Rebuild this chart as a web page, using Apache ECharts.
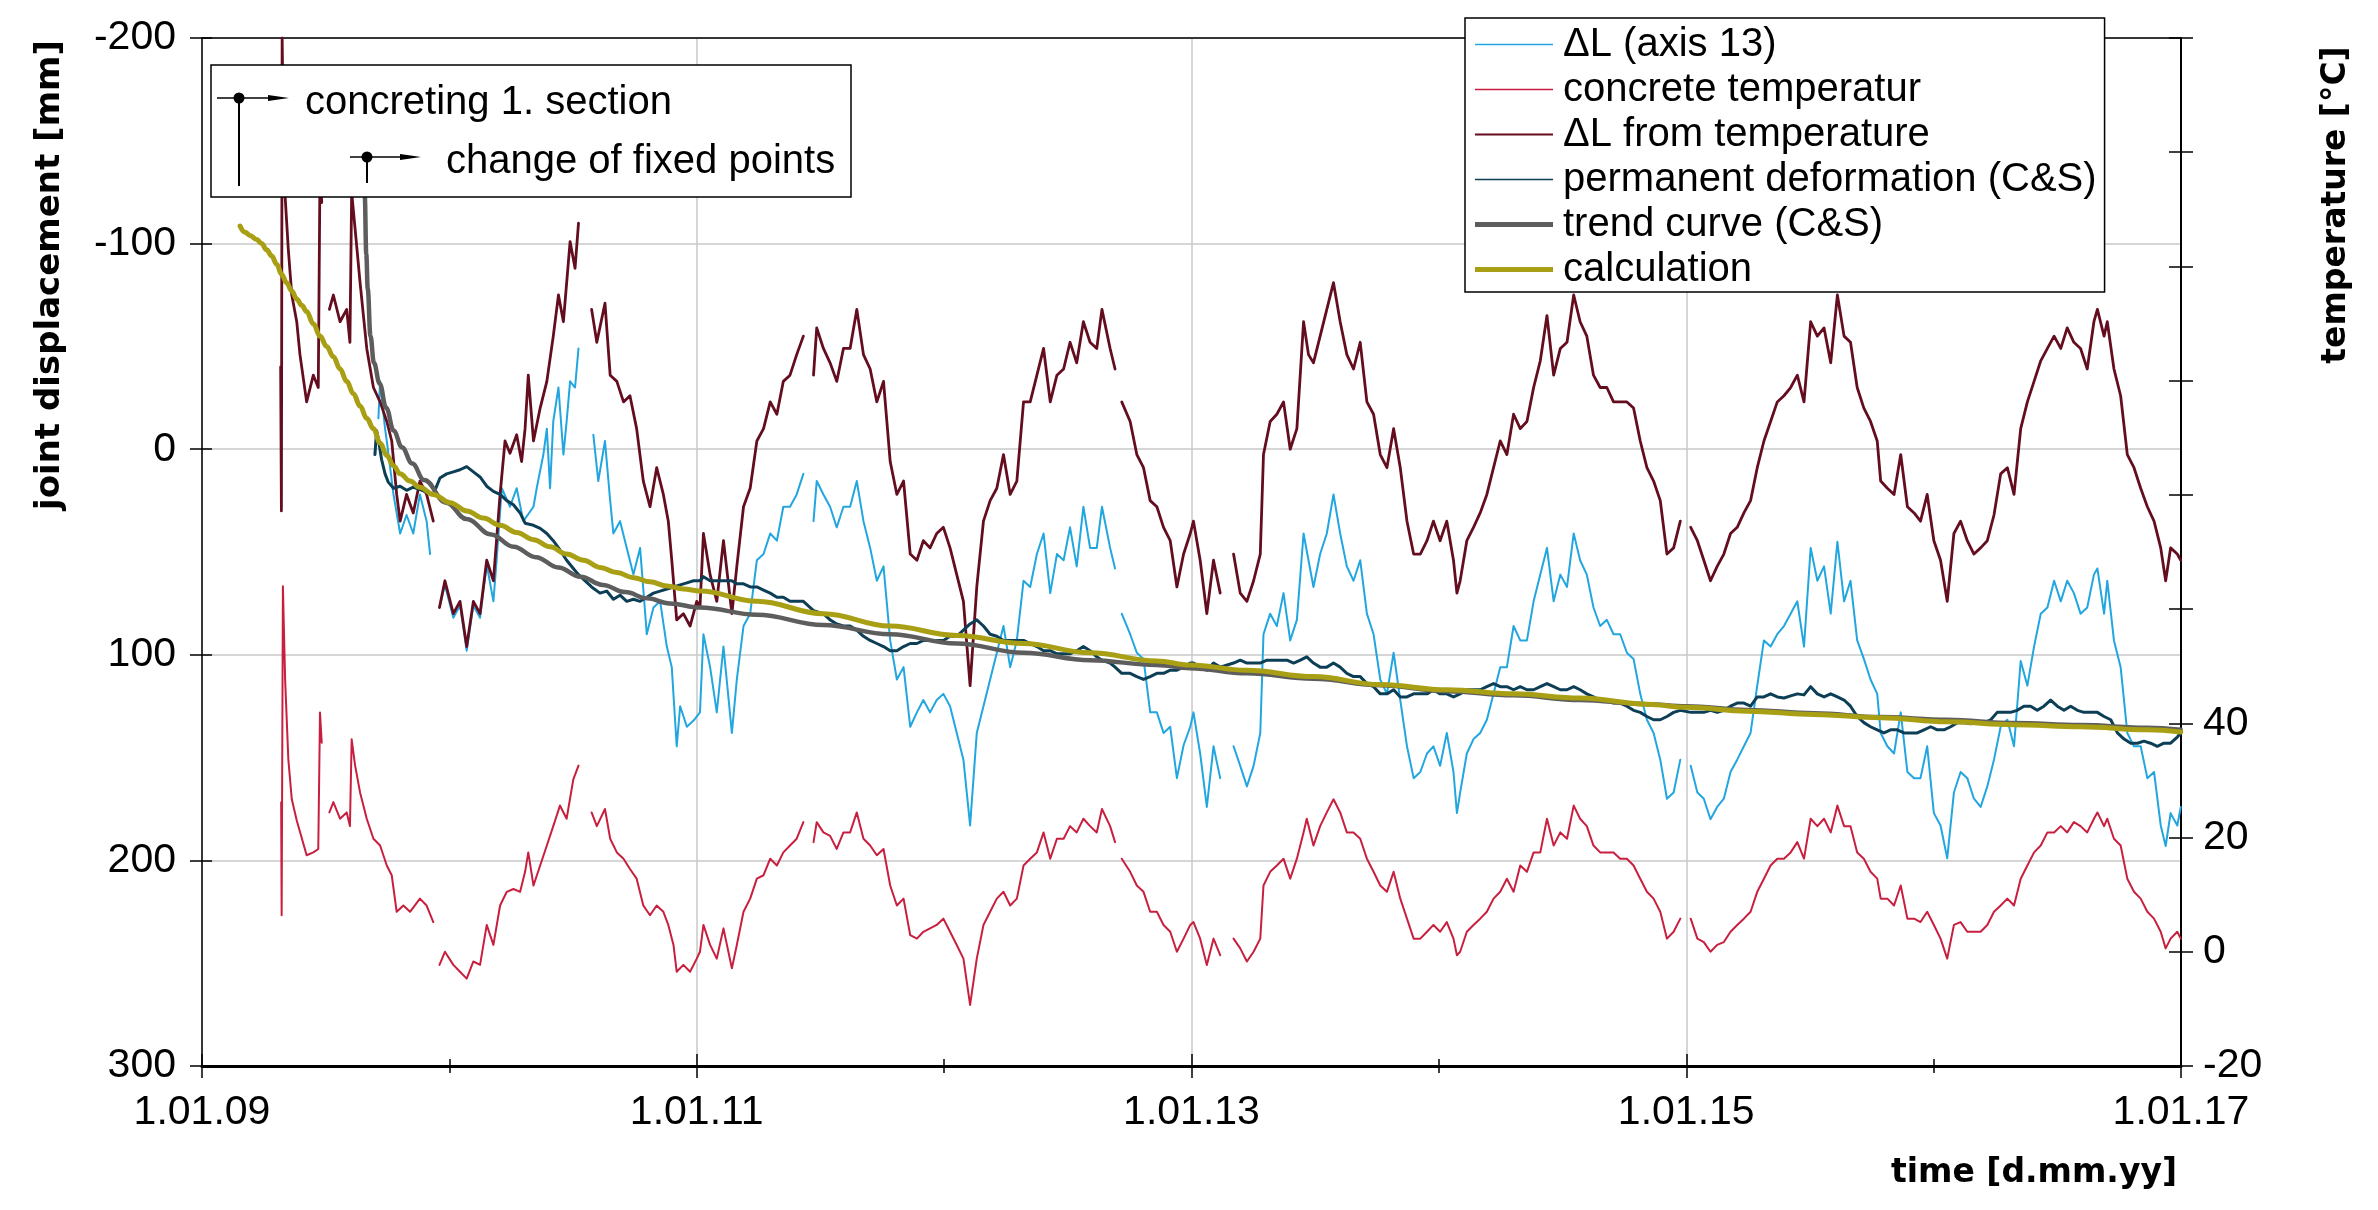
<!DOCTYPE html>
<html><head><meta charset="utf-8">
<script src="https://cdn.jsdelivr.net/npm/echarts@6.0.0/dist/echarts.min.js"></script>
<style>html,body{margin:0;padding:0;background:#fff}#chart{width:2378px;height:1210px}</style>
</head><body><div id="chart"></div>
<script>
// ---- tick labels ----
const xTickYears = [2009, 2011, 2013, 2015, 2017];
const xTickLabels = ['1.01.09', '1.01.11', '1.01.13', '1.01.15', '1.01.17'];
const tempLabelValues = [-20, 0, 20, 40];

// ---- series names ----
const seriesNames = ['ΔL (axis 13)', 'concrete temperatur', 'ΔL from temperature', 'permanent deformation (C&S)', 'trend curve (C&S)', 'calculation'];
const annotationLabels = ['concreting 1. section', 'change of fixed points'];

// ---- ΔL (axis 13) [mm] ----
const deltaL13 = [
[2009.713,-15],[2009.720,-33],[2009.740,-10],[2009.747,-4],[2009.774,22],[2009.801,41],[2009.827,32],[2009.854,41],[2009.881,22],[2009.908,35],[2009.922,51],[2009.941,null],
[2009.960,77],[2009.982,66],[2010.016,82],[2010.043,76],[2010.070,98],[2010.097,76],[2010.124,82],[2010.151,56],[2010.178,74],[2010.191,54],[2010.212,19],[2010.245,28],[2010.272,19],[2010.299,35],[2010.340,28],[2010.353,19],[2010.380,2.6],[2010.394,-10],[2010.407,19],[2010.420,-13.5],[2010.441,-30],[2010.461,2.6],[2010.474,-13.5],[2010.488,-33],[2010.508,-30],[2010.522,-49],[2010.550,null],
[2010.582,-7],[2010.602,15.5],[2010.629,-4],[2010.650,25],[2010.663,41],[2010.690,35],[2010.717,48],[2010.744,61],[2010.771,48],[2010.798,90],[2010.825,77],[2010.852,74],[2010.879,96],[2010.899,106],[2010.919,144.5],[2010.933,125],[2010.960,135],[2010.987,132],[2011.013,128],
[2011.027,90],[2011.054,106],[2011.081,128],[2011.108,96],[2011.142,138],[2011.162,112],[2011.189,86],[2011.216,80],[2011.243,54],[2011.270,51],[2011.297,41],[2011.324,44.5],[2011.350,28],[2011.377,28],[2011.404,22],[2011.431,12],[2011.452,null],
[2011.472,35],[2011.485,15.5],[2011.512,22],[2011.539,28],[2011.566,38],[2011.593,28],[2011.620,28],[2011.647,15.5],[2011.674,35],[2011.701,48],[2011.728,64],[2011.755,57],[2011.782,93],[2011.809,112],[2011.836,106],[2011.863,135],[2011.890,128],[2011.916,122],[2011.943,128],[2011.970,122],[2011.997,119],[2012.024,125],[2012.051,138],[2012.078,151],[2012.105,183],[2012.132,138],[2012.159,125],[2012.186,112],[2012.213,99],[2012.240,86],[2012.267,106],[2012.294,93],[2012.321,64],[2012.348,67],[2012.375,51],[2012.402,41],[2012.429,70],[2012.456,51],[2012.483,54],[2012.509,38],[2012.536,57],[2012.563,28],[2012.590,48],[2012.617,48],[2012.638,28],[2012.671,48],[2012.691,58],[2012.705,null],
[2012.718,80],[2012.752,90],[2012.779,99],[2012.806,102],[2012.833,128],[2012.860,128],[2012.887,138],[2012.914,135],[2012.941,160],[2012.968,144],[2012.995,135],
[2013.008,128],[2013.035,148],[2013.062,174],[2013.089,144.5],[2013.116,160],[2013.143,null],
[2013.170,144.5],[2013.197,154],[2013.224,164],[2013.251,154],[2013.278,138],[2013.291,90],[2013.318,80],[2013.345,86],[2013.372,70],[2013.399,93],[2013.426,83],[2013.453,41],[2013.473,54],[2013.493,67],[2013.520,51],[2013.547,41],[2013.574,22],[2013.601,41],[2013.628,57],[2013.655,64],[2013.682,54],[2013.709,80],[2013.736,90],[2013.763,112],[2013.790,119],[2013.817,99],[2013.844,122],[2013.871,144.5],[2013.898,160],[2013.925,157],[2013.952,148],[2013.978,144.5],[2014.005,154],[2014.032,138],[2014.059,157],[2014.073,177],[2014.086,167],[2014.113,148],[2014.140,141],[2014.167,138],[2014.194,131.6],[2014.221,119],[2014.248,106],[2014.275,106],[2014.302,86],[2014.329,93],[2014.356,93],[2014.383,74],[2014.410,61],[2014.437,48],[2014.464,74],[2014.491,61],[2014.518,67],[2014.545,41],[2014.571,54],[2014.598,61],[2014.625,77],[2014.652,86],[2014.679,83],[2014.706,90],[2014.733,90],[2014.760,99],[2014.787,102],[2014.814,119],[2014.841,131.6],[2014.868,138],[2014.895,151],[2014.922,170],[2014.949,167],[2014.976,151],[2015.000,null],
[2015.018,154],[2015.045,167],[2015.071,170],[2015.098,180],[2015.125,174],[2015.152,170],[2015.179,157],[2015.206,151],[2015.233,144.5],[2015.260,138],[2015.287,115],[2015.314,93],[2015.341,96],[2015.368,90],[2015.395,86],[2015.422,80],[2015.449,74],[2015.476,96],[2015.503,48],[2015.530,64],[2015.557,57],[2015.584,80],[2015.611,45],[2015.638,74],[2015.664,64],[2015.691,93],[2015.718,102],[2015.745,112],[2015.772,119],[2015.786,138],[2015.813,144.5],[2015.840,148],[2015.867,128],[2015.894,157],[2015.921,160],[2015.947,160],[2015.974,144.5],[2016.001,177],[2016.028,183],[2016.055,199],[2016.082,167],[2016.109,157],[2016.136,160],[2016.163,170],[2016.190,174],[2016.217,164],[2016.244,151],[2016.271,135],[2016.298,131.6],[2016.325,144.5],[2016.352,103],[2016.379,115],[2016.406,96],[2016.433,80],[2016.460,77],[2016.487,64],[2016.514,74],[2016.540,64],[2016.567,70],[2016.594,80],[2016.621,77],[2016.648,61],[2016.662,58],[2016.689,80],[2016.702,64],[2016.729,93],[2016.756,106],[2016.783,138],[2016.810,144.5],[2016.837,144.5],[2016.864,160],[2016.891,157],[2016.918,183],[2016.938,193],[2016.958,177],[2016.985,183],[2016.999,174]
];

// ---- concrete temperature [°C] (right axis) ----
const concreteTemp = [
[2009.320,26.2],[2009.322,6.4],[2009.327,64.0],[2009.336,47.7],[2009.349,33.7],[2009.363,26.7],[2009.383,23.0],[2009.396,21.0],[2009.423,16.9],[2009.450,17.4],[2009.470,18.0],[2009.477,41.9],[2009.484,36.6],[2009.500,null],
[2009.515,24.4],[2009.531,26.2],[2009.558,23.3],[2009.585,24.4],[2009.598,22.0],[2009.605,37.2],[2009.619,32.6],[2009.639,27.9],[2009.666,23.3],[2009.693,19.8],[2009.720,18.6],[2009.747,15.1],[2009.767,13.4],[2009.787,7.0],[2009.814,8.1],[2009.841,7.0],[2009.881,9.3],[2009.908,8.1],[2009.935,5.2],[2009.948,null],
[2009.960,-2.3],[2009.982,0],[2010.016,-2.3],[2010.043,-3.5],[2010.070,-4.7],[2010.097,-1.7],[2010.124,-2.3],[2010.151,4.7],[2010.178,1.2],[2010.205,8.1],[2010.232,10.5],[2010.259,11.0],[2010.286,10.5],[2010.306,14.0],[2010.319,17.4],[2010.340,11.6],[2010.367,15.1],[2010.394,18.6],[2010.420,22.0],[2010.447,25.6],[2010.474,23.3],[2010.501,30.2],[2010.522,32.6],[2010.548,null],
[2010.575,24.4],[2010.596,22.0],[2010.629,25.0],[2010.650,19.8],[2010.677,17.4],[2010.704,16.3],[2010.730,14.5],[2010.757,12.8],[2010.784,8.1],[2010.811,6.4],[2010.838,8.1],[2010.865,7.0],[2010.885,4.7],[2010.906,1.2],[2010.919,-3.5],[2010.946,-2.3],[2010.973,-3.5],[2011.000,-1.2],[2011.013,0],
[2011.027,4.7],[2011.054,1.2],[2011.081,-1.2],[2011.108,4.1],[2011.142,-2.9],[2011.162,1.2],[2011.189,7.0],[2011.216,9.3],[2011.243,12.8],[2011.270,13.4],[2011.297,16.3],[2011.324,15.1],[2011.350,17.4],[2011.377,18.6],[2011.404,19.8],[2011.431,22.7],[2011.452,null],
[2011.472,19.2],[2011.485,22.7],[2011.512,20.9],[2011.539,20.3],[2011.566,18.0],[2011.593,20.9],[2011.620,20.9],[2011.647,24.4],[2011.674,19.8],[2011.701,18.6],[2011.728,16.9],[2011.755,18.0],[2011.782,11.6],[2011.809,8.1],[2011.836,9.3],[2011.863,2.9],[2011.890,2.3],[2011.916,3.5],[2011.943,4.1],[2011.970,4.7],[2011.997,5.8],[2012.024,3.5],[2012.051,1.2],[2012.078,-1.2],[2012.105,-9.3],[2012.132,-1.2],[2012.159,4.7],[2012.186,7.0],[2012.213,9.3],[2012.240,10.5],[2012.267,8.1],[2012.294,9.3],[2012.321,15.1],[2012.348,16.3],[2012.375,17.4],[2012.402,20.9],[2012.429,16.3],[2012.456,19.8],[2012.483,19.8],[2012.509,22.0],[2012.536,20.9],[2012.563,23.3],[2012.590,22.0],[2012.617,20.9],[2012.638,25.0],[2012.671,22.0],[2012.691,19.2],[2012.705,null],
[2012.718,16.3],[2012.752,14.0],[2012.779,11.6],[2012.806,10.5],[2012.833,7.0],[2012.860,7.0],[2012.887,4.7],[2012.914,3.5],[2012.941,0],[2012.968,2.3],[2012.995,4.7],
[2013.008,5.2],[2013.035,2.3],[2013.062,-2.3],[2013.089,2.3],[2013.116,-0.6],[2013.143,null],
[2013.170,2.3],[2013.197,0.6],[2013.224,-1.7],[2013.251,0],[2013.278,2.3],[2013.291,11.6],[2013.318,14.0],[2013.345,15.1],[2013.372,16.3],[2013.399,12.8],[2013.426,16.3],[2013.453,20.9],[2013.466,23.3],[2013.493,18.6],[2013.520,22.0],[2013.547,24.4],[2013.574,26.7],[2013.601,24.4],[2013.628,20.9],[2013.655,20.9],[2013.682,19.8],[2013.709,16.3],[2013.736,14.0],[2013.763,11.6],[2013.790,10.5],[2013.817,14.0],[2013.844,9.3],[2013.871,5.8],[2013.898,2.3],[2013.925,2.3],[2013.952,3.5],[2013.978,4.7],[2014.005,3.5],[2014.032,5.2],[2014.059,2.3],[2014.073,-0.6],[2014.086,0],[2014.113,3.5],[2014.140,4.7],[2014.167,5.8],[2014.194,7.0],[2014.221,9.3],[2014.248,10.5],[2014.275,12.8],[2014.302,10.5],[2014.329,15.1],[2014.356,14.0],[2014.383,17.4],[2014.410,17.4],[2014.437,23.3],[2014.464,18.6],[2014.491,20.9],[2014.518,19.8],[2014.545,25.6],[2014.571,23.3],[2014.598,22.0],[2014.625,18.6],[2014.652,17.4],[2014.679,17.4],[2014.706,17.4],[2014.733,16.3],[2014.760,16.3],[2014.787,15.1],[2014.814,12.8],[2014.841,10.5],[2014.868,9.3],[2014.895,7.0],[2014.922,2.3],[2014.949,3.5],[2014.976,5.8],[2015.000,null],
[2015.018,5.8],[2015.045,2.3],[2015.071,1.7],[2015.098,0],[2015.125,1.2],[2015.152,1.7],[2015.179,3.5],[2015.206,4.7],[2015.233,5.8],[2015.260,7.0],[2015.287,10.5],[2015.314,12.8],[2015.341,15.1],[2015.368,16.3],[2015.395,16.3],[2015.422,17.4],[2015.449,19.2],[2015.476,16.3],[2015.503,23.3],[2015.530,22.0],[2015.557,23.3],[2015.584,20.9],[2015.611,25.6],[2015.638,22.0],[2015.664,22.0],[2015.691,17.4],[2015.718,16.3],[2015.745,14.0],[2015.772,12.8],[2015.786,9.3],[2015.813,9.3],[2015.840,8.1],[2015.867,11.6],[2015.894,5.8],[2015.921,5.8],[2015.947,5.2],[2015.974,7.0],[2016.001,4.7],[2016.028,2.3],[2016.055,-1.2],[2016.082,4.7],[2016.109,5.2],[2016.136,3.5],[2016.163,3.5],[2016.190,3.5],[2016.217,4.7],[2016.244,7.0],[2016.271,8.1],[2016.298,9.3],[2016.325,8.1],[2016.352,12.8],[2016.379,15.1],[2016.406,17.4],[2016.433,18.6],[2016.460,20.9],[2016.487,20.9],[2016.514,22.0],[2016.540,20.9],[2016.567,22.7],[2016.594,22.0],[2016.621,20.9],[2016.648,23.3],[2016.662,24.4],[2016.689,22.0],[2016.702,23.3],[2016.729,19.8],[2016.756,18.6],[2016.783,12.8],[2016.810,10.5],[2016.837,9.3],[2016.864,7.0],[2016.891,5.8],[2016.918,3.5],[2016.938,0.6],[2016.958,2.3],[2016.985,3.5],[2016.999,2.3]
];

// ---- ΔL from temperature [mm] ----
const deltaLTemp = [
[2009.318,-40],[2009.321,30],[2009.324,-200],[2009.330,-140],[2009.336,-123],[2009.349,-97],[2009.363,-75],[2009.383,-62],[2009.396,-46],[2009.423,-23],[2009.450,-36],[2009.470,-30],[2009.477,-136],[2009.484,-120],[2009.500,null],
[2009.515,-68],[2009.531,-75],[2009.558,-62],[2009.585,-68],[2009.598,-52],[2009.605,-125],[2009.619,-107],[2009.639,-81],[2009.666,-49],[2009.693,-30],[2009.720,-23],[2009.747,-13.5],[2009.767,-4],[2009.787,22],[2009.801,35],[2009.827,22],[2009.854,31],[2009.881,15.5],[2009.908,22],[2009.935,35],[2009.948,null],
[2009.960,77],[2009.982,64],[2010.016,80],[2010.043,74],[2010.070,96],[2010.097,74],[2010.124,80],[2010.151,54],[2010.178,64],[2010.205,22],[2010.225,-4],[2010.245,2],[2010.272,-7],[2010.292,6],[2010.306,-10],[2010.319,-36],[2010.340,-4],[2010.367,-20],[2010.394,-33],[2010.420,-55],[2010.441,-75],[2010.461,-62],[2010.488,-101],[2010.508,-88],[2010.522,-110],[2010.548,null],
[2010.575,-68],[2010.596,-52],[2010.629,-71],[2010.650,-36],[2010.677,-33],[2010.704,-23],[2010.730,-26],[2010.757,-10],[2010.784,15.5],[2010.811,28],[2010.838,9],[2010.865,22],[2010.885,35],[2010.899,54],[2010.919,83],[2010.946,80],[2010.973,86],[2011.000,74],[2011.013,77],
[2011.027,41],[2011.054,61],[2011.081,74],[2011.108,44.5],[2011.142,80],[2011.162,57],[2011.189,28],[2011.216,19],[2011.243,-4],[2011.270,-10],[2011.297,-23],[2011.324,-17],[2011.350,-33],[2011.377,-36],[2011.404,-46],[2011.431,-55],[2011.452,null],
[2011.472,-36],[2011.485,-59],[2011.512,-49],[2011.539,-42],[2011.566,-33],[2011.593,-49],[2011.620,-49],[2011.647,-68],[2011.674,-46],[2011.701,-39],[2011.728,-23],[2011.755,-33],[2011.782,6],[2011.809,22],[2011.836,15.5],[2011.863,51],[2011.890,54],[2011.916,44.5],[2011.943,48],[2011.970,41],[2011.997,38],[2012.024,48],[2012.051,61],[2012.078,74],[2012.105,115],[2012.132,67],[2012.159,35],[2012.186,25],[2012.213,19],[2012.240,2.6],[2012.267,22],[2012.294,15.5],[2012.321,-23],[2012.348,-23],[2012.375,-36],[2012.402,-49],[2012.429,-23],[2012.456,-36],[2012.483,-39],[2012.509,-52],[2012.536,-42],[2012.563,-62],[2012.590,-52],[2012.617,-49],[2012.638,-68],[2012.671,-49],[2012.691,-39],[2012.705,null],
[2012.718,-23],[2012.752,-13.5],[2012.779,2.6],[2012.806,9],[2012.833,25],[2012.860,28],[2012.887,38],[2012.914,44.5],[2012.941,67],[2012.968,51],[2012.995,41],
[2013.008,35],[2013.035,54],[2013.062,80],[2013.089,54],[2013.116,70],[2013.143,null],
[2013.170,51],[2013.197,70],[2013.224,74],[2013.251,64],[2013.278,51],[2013.291,2.6],[2013.318,-13.5],[2013.345,-17],[2013.372,-23],[2013.399,0],[2013.426,-10],[2013.453,-62],[2013.473,-46],[2013.493,-42],[2013.520,-55],[2013.547,-68],[2013.574,-81],[2013.601,-62],[2013.628,-46],[2013.655,-39],[2013.682,-52],[2013.709,-23],[2013.736,-17],[2013.763,2.6],[2013.790,9],[2013.817,-10],[2013.844,9],[2013.871,35],[2013.898,51],[2013.925,51],[2013.952,44.5],[2013.978,35],[2014.005,44.5],[2014.032,35],[2014.059,54],[2014.073,70],[2014.086,64],[2014.113,44.5],[2014.140,38],[2014.167,31],[2014.194,22],[2014.221,9],[2014.248,-4],[2014.275,2.6],[2014.302,-17],[2014.329,-10],[2014.356,-13.5],[2014.383,-30],[2014.410,-43],[2014.437,-65],[2014.464,-36],[2014.491,-49],[2014.518,-52],[2014.545,-75],[2014.571,-62],[2014.598,-55],[2014.625,-36],[2014.652,-30],[2014.679,-30],[2014.706,-23],[2014.733,-23],[2014.760,-23],[2014.787,-20],[2014.814,-4],[2014.841,9],[2014.868,15.5],[2014.895,25],[2014.922,51],[2014.949,48],[2014.976,35],[2015.000,null],
[2015.018,38],[2015.045,44.5],[2015.071,54],[2015.098,64],[2015.125,57],[2015.152,51],[2015.179,41],[2015.206,38],[2015.233,31],[2015.260,25],[2015.287,9],[2015.314,-4],[2015.341,-13.5],[2015.368,-23],[2015.395,-26],[2015.422,-30],[2015.449,-36],[2015.476,-23],[2015.503,-62],[2015.530,-55],[2015.557,-59],[2015.584,-42],[2015.611,-75],[2015.638,-55],[2015.664,-52],[2015.691,-30],[2015.718,-20],[2015.745,-13.5],[2015.772,-4],[2015.786,15.5],[2015.813,19],[2015.840,22],[2015.867,2.6],[2015.894,28],[2015.921,31],[2015.947,35],[2015.974,22],[2016.001,44.5],[2016.028,54],[2016.055,74],[2016.082,41],[2016.109,35],[2016.136,44.5],[2016.163,51],[2016.190,48],[2016.217,44.5],[2016.244,32],[2016.271,12],[2016.298,9],[2016.325,22],[2016.352,-10],[2016.379,-23],[2016.406,-33],[2016.433,-43],[2016.460,-49],[2016.487,-55],[2016.514,-49],[2016.540,-59],[2016.567,-52],[2016.594,-49],[2016.621,-39],[2016.648,-62],[2016.662,-68],[2016.689,-55],[2016.702,-62],[2016.729,-39],[2016.756,-26],[2016.783,2.6],[2016.810,9],[2016.837,19],[2016.864,28],[2016.891,35],[2016.918,48],[2016.938,64],[2016.958,48],[2016.985,51],[2016.999,54]
];

// ---- permanent deformation (C&S) [mm] ----
const permDeform = [
[2009.699,2.6],[2009.706,-9],[2009.713,-5],[2009.726,5],[2009.740,12],[2009.753,16],[2009.774,19],[2009.801,18],[2009.827,20],[2009.854,18.5],[2009.881,19.5],[2009.908,21],[2009.935,22],[2009.962,14],[2009.989,12],[2010.016,11],[2010.043,10],[2010.070,8.5],[2010.097,11],[2010.124,13.5],[2010.151,18],[2010.178,20.5],[2010.205,22],[2010.232,25],[2010.259,27],[2010.286,31],[2010.306,36],[2010.340,37],[2010.367,38.5],[2010.394,41],[2010.420,44.5],[2010.447,49],[2010.474,54],[2010.501,58],[2010.522,61],[2010.575,67],[2010.609,70],[2010.636,69],[2010.663,73],[2010.690,71],[2010.717,74],[2010.744,73],[2010.771,74],[2010.798,72],[2010.825,70],[2010.852,69],[2010.879,68],[2010.906,67],[2010.933,66],[2010.960,65],[2010.987,64],[2011.013,64],
[2011.027,62],[2011.054,64],[2011.081,64],[2011.108,64],[2011.142,64],[2011.162,65.5],[2011.189,65.5],[2011.216,67],[2011.243,67],[2011.270,68.5],[2011.297,70],[2011.324,72],[2011.350,72],[2011.377,74],[2011.404,74],[2011.431,74],[2011.472,78.5],[2011.512,80],[2011.539,83],[2011.566,85],[2011.593,86],[2011.620,86],[2011.647,88],[2011.674,91],[2011.701,93],[2011.728,94.5],[2011.755,96],[2011.782,98],[2011.809,98],[2011.836,96],[2011.863,94.5],[2011.890,94.5],[2011.916,93],[2011.943,93],[2011.970,93],[2011.997,93],[2012.024,91],[2012.051,91],[2012.078,88],[2012.105,85],[2012.132,83],[2012.159,86],[2012.186,90],[2012.213,91],[2012.240,93],[2012.267,93],[2012.294,93],[2012.321,93],[2012.348,94.5],[2012.375,96],[2012.402,98],[2012.429,98],[2012.456,99.5],[2012.483,99.5],[2012.509,99.5],[2012.536,98],[2012.563,96],[2012.590,98],[2012.617,101],[2012.638,102.6],[2012.671,104],[2012.691,106],[2012.718,109],[2012.752,109],[2012.779,110.6],[2012.806,112],[2012.833,110.6],[2012.860,109],[2012.887,109],[2012.914,107.5],[2012.941,107.5],[2012.968,106],[2012.995,104],
[2013.008,104],[2013.035,106],[2013.062,107.5],[2013.089,104],[2013.116,106],[2013.170,104],[2013.197,102.6],[2013.224,104],[2013.251,104],[2013.278,104],[2013.305,102.6],[2013.332,102.6],[2013.359,102.6],[2013.386,102.6],[2013.413,104],[2013.440,102.6],[2013.466,101],[2013.493,104],[2013.520,106],[2013.547,106],[2013.574,104],[2013.601,106],[2013.628,109],[2013.655,110.6],[2013.682,110.6],[2013.709,114],[2013.736,115.5],[2013.763,119],[2013.790,119],[2013.817,117],[2013.844,120.5],[2013.871,120.5],[2013.898,119],[2013.925,119],[2013.952,119],[2013.978,117],[2014.005,119],[2014.032,119],[2014.059,120.5],[2014.086,119],[2014.113,117],[2014.140,117],[2014.167,117],[2014.194,115.5],[2014.221,114],[2014.248,115.5],[2014.275,115.5],[2014.302,117],[2014.329,115.5],[2014.356,117],[2014.383,117],[2014.410,115.5],[2014.437,114],[2014.464,115.5],[2014.491,117],[2014.518,117],[2014.545,115.5],[2014.571,117],[2014.598,119],[2014.625,120.5],[2014.652,122],[2014.679,122],[2014.706,123.5],[2014.733,123.5],[2014.760,125],[2014.787,127],[2014.814,128],[2014.841,130],[2014.868,131.6],[2014.895,131.6],[2014.922,130],[2014.949,128],[2014.976,127],
[2015.018,128],[2015.045,128],[2015.071,128],[2015.098,127],[2015.125,128],[2015.152,127],[2015.179,125],[2015.206,123.5],[2015.233,123.5],[2015.260,125],[2015.287,120.5],[2015.314,120.5],[2015.341,119],[2015.368,120.5],[2015.395,121],[2015.422,120],[2015.449,119],[2015.476,119.5],[2015.503,115.5],[2015.530,119],[2015.557,120.5],[2015.584,119],[2015.611,120.5],[2015.638,122],[2015.664,125],[2015.691,130],[2015.718,133],[2015.745,135],[2015.772,136.5],[2015.799,138],[2015.826,136.5],[2015.853,136.5],[2015.880,138],[2015.907,138],[2015.934,138],[2015.961,136.5],[2015.988,135],[2016.015,136.5],[2016.042,136.5],[2016.069,135],[2016.096,133],[2016.123,133],[2016.150,133.5],[2016.177,133],[2016.204,133],[2016.231,131.6],[2016.257,128],[2016.284,128],[2016.311,128],[2016.338,127],[2016.365,125],[2016.392,125],[2016.419,127],[2016.446,125],[2016.473,122],[2016.500,125],[2016.527,127],[2016.554,125],[2016.581,127],[2016.608,128],[2016.635,128],[2016.662,128],[2016.689,130],[2016.716,131.6],[2016.743,138],[2016.770,141],[2016.797,143],[2016.824,143],[2016.850,142],[2016.877,143],[2016.904,144.5],[2016.931,143],[2016.958,143],[2016.985,140],[2016.999,138]
];

// ---- trend curve (C&S) [mm] ----
const trendCurve = [
[2009.654,-180],[2009.658,-123],[2009.664,-95],[2009.670,-78],[2009.681,-55],[2009.695,-42],[2009.718,-32],[2009.745,-20],[2009.775,-9],[2009.808,-1],[2009.850,7],[2009.898,15],[2009.987,26],[2010.070,34],[2010.169,41.5],[2010.260,47.5],[2010.350,52.5],[2010.440,57.5],[2010.530,62],[2010.620,66],[2010.710,69.5],[2010.800,72.5],[2010.890,75],[2011.013,77],[2011.243,80.5],[2011.512,85.5],[2011.782,90],[2012.051,94.5],[2012.321,99],[2012.590,102.6],[2012.860,105],[2012.995,106.5],[2013.224,109],[2013.493,111.6],[2013.763,114.8],[2014.032,117.7],[2014.302,119.7],[2014.571,122],[2014.841,124],[2015.000,125],[2015.247,126.8],[2015.516,128.4],[2015.786,130.3],[2016.055,131.6],[2016.325,133.2],[2016.594,134.2],[2016.864,135.5],[2016.999,136.5]
];

// ---- calculation [mm] ----
const calculation = [
[2009.154,-108.5],[2009.174,-105.5],[2009.194,-104],[2009.221,-102],[2009.241,-100],[2009.261,-97],[2009.282,-94],[2009.302,-90],[2009.322,-85],[2009.342,-81],[2009.363,-77],[2009.383,-73],[2009.403,-70],[2009.423,-67],[2009.450,-61],[2009.477,-55],[2009.504,-50],[2009.531,-45],[2009.558,-39],[2009.585,-33],[2009.612,-27],[2009.639,-21],[2009.666,-15],[2009.693,-10],[2009.720,-3],[2009.747,3],[2009.774,8],[2009.801,12],[2009.841,15.5],[2009.881,18.5],[2009.935,22],[2010.003,26],[2010.070,30],[2010.137,33.5],[2010.205,37],[2010.272,40.5],[2010.340,44],[2010.407,47.5],[2010.474,51],[2010.542,54],[2010.609,57.5],[2010.677,60],[2010.744,62.5],[2010.811,64.5],[2010.879,66.5],[2010.946,68],[2011.013,69],[2011.243,74],[2011.512,80],[2011.782,86],[2012.051,90.6],[2012.321,94.5],[2012.590,99],[2012.860,103],[2012.995,105],[2013.224,107.5],[2013.493,110.6],[2013.763,114.5],[2014.032,117],[2014.302,119],[2014.571,121],[2014.841,124],[2015.000,125.5],[2015.247,127.4],[2015.516,129],[2015.786,130.6],[2016.055,132.6],[2016.325,134],[2016.594,135],[2016.864,136.5],[2016.999,137.5]
];

// ---------------- chart ----------------
const LABEL_FONT = '"Liberation Sans", Arial, sans-serif';
const TITLE_FONT = '"DejaVu Sans", Verdana, sans-serif';
const colors = ['#22a6e0', '#c81f3f', '#640d1f', '#0c3e56', '#5d5d5d', '#a89f14'];
const widths = [2.0, 2.0, 2.8, 3.0, 4.5, 5];
const legendWidths = [1.6, 1.6, 2, 1.6, 5, 5];
const datasets = [deltaL13, concreteTemp, deltaLTemp, permDeform, trendCurve, calculation];

function lineIcon(w) {
  const a = (10 - w / 2).toFixed(2), b = (10 + w / 2).toFixed(2);
  return 'path://M0,0H0.01V0.01H0Z M0,' + a + 'H78V' + b + 'H0Z M77.99,19.99H78V20H77.99Z';
}

const chart = echarts.init(document.getElementById('chart'), null, {renderer: 'canvas'});
const tickColor = '#000';
const gridLine = {show: true, lineStyle: {color: '#c9c9c9', width: 1.5}};

function xFmt(v) {
  const i = xTickYears.indexOf(Math.round(v));
  return i >= 0 ? xTickLabels[i] : '';
}

const option = {
  animation: false,
  backgroundColor: '#fff',
  grid: {left: 202, right: 197, top: 38, bottom: 144, containLabel: false},
  xAxis: [
    {type: 'value', min: 2009, max: 2017, interval: 2, position: 'bottom',
     axisLine: {show: true, onZero: false, lineStyle: {color: '#000', width: 3}},
     axisTick: {show: true, length: 12, lineStyle: {color: tickColor, width: 1.5}},
     minorTick: {show: true, splitNumber: 2, length: 7, lineStyle: {color: tickColor, width: 1.5}},
     axisLabel: {formatter: xFmt, fontSize: 41, fontFamily: LABEL_FONT, color: '#000', margin: 26},
     splitLine: gridLine},
    {type: 'value', min: 2009, max: 2017, interval: 2, position: 'bottom',
     axisLine: {show: false, onZero: false},
     axisTick: {show: true, inside: true, length: 12, lineStyle: {color: tickColor, width: 1.5}},
     minorTick: {show: true, splitNumber: 2, length: 7, lineStyle: {color: tickColor, width: 1.5}},
     axisLabel: {show: false}, splitLine: {show: false}},
    {type: 'value', min: 2009, max: 2017, interval: 2, position: 'top',
     axisLine: {show: true, onZero: false, lineStyle: {color: '#000', width: 1.5}},
     axisTick: {show: false}, axisLabel: {show: false}, splitLine: {show: false}}
  ],
  yAxis: [
    {type: 'value', min: -200, max: 300, interval: 100, inverse: true, position: 'left',
     axisLine: {show: true, onZero: false, lineStyle: {color: '#000', width: 1.5}},
     axisTick: {show: true, length: 12, lineStyle: {color: tickColor, width: 1.5}},
     axisLabel: {fontSize: 41, fontFamily: LABEL_FONT, color: '#000', margin: 26},
     splitLine: gridLine},
    {type: 'value', min: -20, max: 160, interval: 20, position: 'right',
     axisLine: {show: true, onZero: false, lineStyle: {color: '#000', width: 2}},
     axisTick: {show: true, length: 12, lineStyle: {color: tickColor, width: 1.5}},
     axisLabel: {fontSize: 41, fontFamily: LABEL_FONT, color: '#000', margin: 22,
                 formatter: v => tempLabelValues.includes(v) ? String(v) : ''},
     splitLine: {show: false}},
    {type: 'value', min: -200, max: 300, interval: 100, inverse: true, position: 'left',
     axisLine: {show: false, onZero: false},
     axisTick: {show: true, inside: true, length: 10, lineStyle: {color: tickColor, width: 1.5}},
     axisLabel: {show: false}, splitLine: {show: false}},
    {type: 'value', min: -20, max: 160, interval: 20, position: 'right',
     axisLine: {show: false, onZero: false},
     axisTick: {show: true, inside: true, length: 12, lineStyle: {color: tickColor, width: 1.5}},
     axisLabel: {show: false}, splitLine: {show: false}}
  ],
  legend: {
    show: true, orient: 'vertical', left: 1465, top: 18,
    itemWidth: 78, itemHeight: 20, itemGap: 0,
    padding: [4, 8, 0, 10],
    symbolKeepAspect: false,
    backgroundColor: '#fff', borderColor: '#000', borderWidth: 1.5,
    selectedMode: false,
    textStyle: {fontSize: 40, fontFamily: LABEL_FONT, color: '#000', lineHeight: 45, padding: [0, 0, 0, 5]},
    data: seriesNames.map((n, i) => ({name: n, icon: lineIcon(legendWidths[i]), itemStyle: {color: colors[i]}}))
  },
  series: seriesNames.map((n, i) => ({
    name: n, type: 'line', data: datasets[i],
    xAxisIndex: 0, yAxisIndex: i === 1 ? 1 : 0,
    symbol: 'none', showSymbol: false, connectNulls: false,
    smooth: (i >= 4) ? 0.4 : false,
    smoothMonotone: (i >= 4) ? 'x' : undefined,
    silent: true,
    lineStyle: {color: colors[i], width: widths[i], cap: 'round', join: 'round'},
    itemStyle: {color: colors[i]},
    emphasis: {disabled: true},
    z: 2 + i * 0.1
  })),
  graphic: [
    // annotation box
    {type: 'rect', z: 100, shape: {x: 211, y: 65, width: 640, height: 132}, style: {fill: '#fff', stroke: '#000', lineWidth: 1.5}},
    {type: 'line', z: 101, shape: {x1: 217, y1: 98, x2: 276, y2: 98}, style: {stroke: '#000', lineWidth: 1.5}},
    {type: 'polygon', z: 101, shape: {points: [[268, 95], [289, 98], [268, 101]]}, style: {fill: '#000'}},
    {type: 'line', z: 101, shape: {x1: 239, y1: 98, x2: 239, y2: 186}, style: {stroke: '#000', lineWidth: 2}},
    {type: 'circle', z: 102, shape: {cx: 239, cy: 98, r: 5.5}, style: {fill: '#000'}},
    {type: 'text', z: 101, x: 305, y: 103, style: {text: annotationLabels[0], font: '40px ' + LABEL_FONT, fill: '#000', verticalAlign: 'middle', align: 'left'}},
    {type: 'line', z: 101, shape: {x1: 350, y1: 157, x2: 410, y2: 157}, style: {stroke: '#000', lineWidth: 1.5}},
    {type: 'polygon', z: 101, shape: {points: [[400, 154], [421, 157], [400, 160]]}, style: {fill: '#000'}},
    {type: 'line', z: 101, shape: {x1: 367, y1: 157, x2: 367, y2: 183}, style: {stroke: '#000', lineWidth: 2}},
    {type: 'circle', z: 102, shape: {cx: 367, cy: 157, r: 5.5}, style: {fill: '#000'}},
    {type: 'text', z: 101, x: 446, y: 162, style: {text: annotationLabels[1], font: '40px ' + LABEL_FONT, fill: '#000', verticalAlign: 'middle', align: 'left'}},
    // axis titles
    {type: 'text', z: 100, x: 50, y: 275, rotation: Math.PI / 2,
     style: {text: 'joint displacement [mm]', font: 'bold 34px ' + TITLE_FONT, fill: '#000', align: 'center', verticalAlign: 'middle'}},
    {type: 'text', z: 100, x: 2336, y: 205, rotation: Math.PI / 2,
     style: {text: 'temperature [°C]', font: 'bold 33px ' + TITLE_FONT, fill: '#000', align: 'center', verticalAlign: 'middle'}},
    {type: 'text', z: 100, x: 2177, y: 1173,
     style: {text: 'time [d.mm.yy]', font: 'bold 33px ' + TITLE_FONT, fill: '#000', align: 'right', verticalAlign: 'middle'}}
  ]
};
chart.setOption(option);
</script>
</body></html>
